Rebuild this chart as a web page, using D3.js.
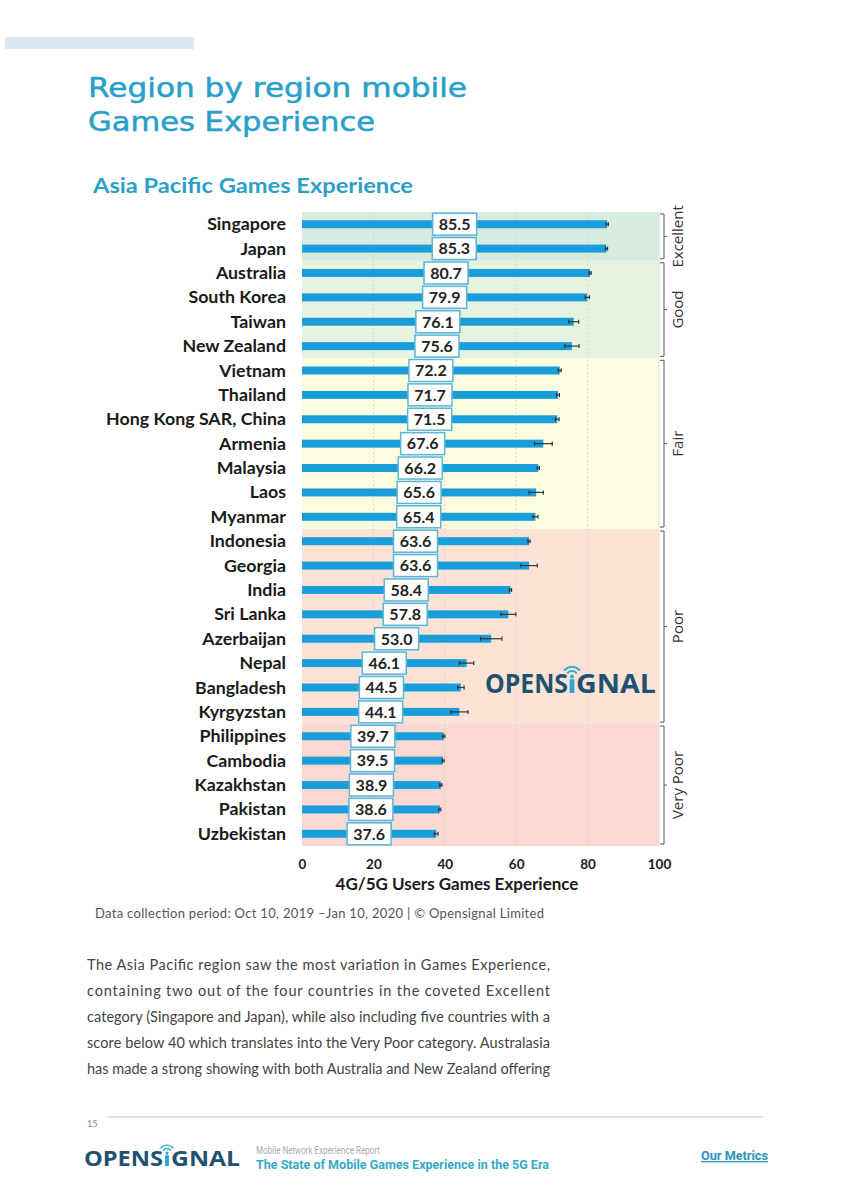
<!DOCTYPE html>
<html>
<head>
<meta charset="utf-8">
<script src="https://cdn.jsdelivr.net/npm/d3@7"></script>
<style>
  html, body { margin: 0; padding: 0; background: #fff; }
  svg { display: block; }
</style>
</head>
<body>
<svg id="page"></svg>
<script>
const W = 849, H = 1200;

// data
const countries = ['Singapore','Japan','Australia','South Korea','Taiwan','New Zealand','Vietnam','Thailand',
  'Hong Kong SAR, China','Armenia','Malaysia','Laos','Myanmar','Indonesia','Georgia','India','Sri Lanka',
  'Azerbaijan','Nepal','Bangladesh','Kyrgyzstan','Philippines','Cambodia','Kazakhstan','Pakistan','Uzbekistan'];
const values = [85.5,85.3,80.7,79.9,76.1,75.6,72.2,71.7,71.5,67.6,66.2,65.6,65.4,63.6,63.6,58.4,57.8,53.0,46.1,44.5,44.1,39.7,39.5,38.9,38.6,37.6];
const errors = [0.3,0.3,0.3,0.6,1.4,2.0,0.4,0.4,0.5,2.5,0.3,2.0,0.7,0.3,2.3,0.3,2.1,3.0,2.0,0.9,2.4,0.3,0.3,0.3,0.3,0.5];
const tierNames = ['Excellent','Good','Fair','Poor','Very Poor'];
const tierCounts = [2,4,7,8,5];
const tierColors = ['#d7ecdf','#e6f3df','#fefcdf','#fde3d6','#fcd8d3'];
const xTicks = [0,20,40,60,80,100];

const paragraph = [
  'The Asia Pacific region saw the most variation in Games Experience,',
  'containing two out of the four countries in the coveted Excellent',
  'category (Singapore and Japan), while also including five countries with a',
  'score below 40 which translates into the Very Poor category. Australasia',
  'has made a strong showing with both Australia and New Zealand offering'
];

const teal = '#2aa0c9';
const navy = '#1f5270';

const svg = d3.select('#page').attr('width', W).attr('height', H);

// top-left strip
svg.append('rect').attr('x',5).attr('y',37).attr('width',189).attr('height',12).attr('fill','#dde8f4');

// page titles
svg.append('text').text('Region by region mobile')
  .attr('x',88).attr('y',97).attr('fill',teal).attr('stroke',teal).attr('stroke-width',0.5)
  .attr('font-family','DejaVu Sans').attr('font-size','26px')
  .attr('textLength',379).attr('lengthAdjust','spacingAndGlyphs');
svg.append('text').text('Games Experience')
  .attr('x',88).attr('y',131).attr('fill',teal).attr('stroke',teal).attr('stroke-width',0.5)
  .attr('font-family','DejaVu Sans').attr('font-size','26px')
  .attr('textLength',287).attr('lengthAdjust','spacingAndGlyphs');

svg.append('text').text('Asia Pacific Games Experience')
  .attr('x',93).attr('y',193).attr('fill',teal)
  .attr('font-family','Lato').attr('font-weight','700').attr('font-size','20.5px')
  .attr('textLength',320).attr('lengthAdjust','spacingAndGlyphs');

// scales
const x = d3.scaleLinear().domain([0,100]).range([302,659]);
const y = d3.scaleBand().domain(countries).range([212,846]);
const barH = 8;

// tier backgrounds
let start = 0;
const tiers = tierNames.map((name,i) => {
  const t = {name, color: tierColors[i], first: countries[start], last: countries[start+tierCounts[i]-1]};
  start += tierCounts[i];
  return t;
});

svg.selectAll('.tier').data(tiers).enter()
  .append('rect').attr('class','tier')
  .attr('x',x(0)).attr('width',x(100)-x(0))
  .attr('y',d=>y(d.first))
  .attr('height',d=>y(d.last)+y.bandwidth()-y(d.first))
  .attr('fill',d=>d.color);

// dotted grid
svg.selectAll('.grid').data([20,40,60,80]).enter()
  .append('line').attr('class','grid')
  .attr('x1',d=>x(d)).attr('x2',d=>x(d))
  .attr('y1',212).attr('y2',846)
  .attr('stroke','#cfcfcf').attr('stroke-width',0.8).attr('stroke-dasharray','2,2');
svg.append('line').attr('x1',x(100)).attr('x2',x(100)).attr('y1',212).attr('y2',846)
  .attr('stroke','#d8d8d8').attr('stroke-width',0.8);

// bars
svg.selectAll('.bar').data(countries).enter()
  .append('rect').attr('class','bar')
  .attr('x',x(0))
  .attr('y',d=>y(d)+y.bandwidth()/2-barH/2)
  .attr('width',(d,i)=>x(values[i])-x(0))
  .attr('height',barH)
  .attr('fill','#1a9edb');

// error bars
const eb = svg.selectAll('.err').data(countries).enter().append('g').attr('class','err')
  .attr('transform',d=>`translate(0,${y(d)+y.bandwidth()/2})`);
eb.append('line')
  .attr('x1',(d,i)=>x(values[i]-errors[i])).attr('x2',(d,i)=>x(values[i]+errors[i]))
  .attr('y1',0).attr('y2',0).attr('stroke','#333').attr('stroke-width',1.2);
eb.append('line')
  .attr('x1',(d,i)=>x(values[i]-errors[i])).attr('x2',(d,i)=>x(values[i]-errors[i]))
  .attr('y1',-2).attr('y2',2).attr('stroke','#333').attr('stroke-width',1.2);
eb.append('line')
  .attr('x1',(d,i)=>x(values[i]+errors[i])).attr('x2',(d,i)=>x(values[i]+errors[i]))
  .attr('y1',-2).attr('y2',2).attr('stroke','#333').attr('stroke-width',1.2);

// value boxes at the middle of each bar
const vb = svg.selectAll('.vlab').data(countries).enter().append('g').attr('class','vlab')
  .attr('transform',(d,i)=>`translate(${x(values[i]/2)},${y(d)+y.bandwidth()/2})`);
vb.append('rect').attr('x',-22).attr('y',-11).attr('width',44).attr('height',22)
  .attr('fill','#fff').attr('stroke','#58b6da').attr('stroke-width',1.5);
vb.append('text').text((d,i)=>values[i].toFixed(1))
  .attr('text-anchor','middle').attr('y',5.8)
  .attr('font-family','Lato').attr('font-weight','700').attr('font-size','16px').attr('fill','#222');

// country names
svg.selectAll('.cname').data(countries).enter()
  .append('text').attr('class','cname').text(d=>d)
  .attr('x',286).attr('y',d=>y(d)+y.bandwidth()/2+6)
  .attr('text-anchor','end')
  .attr('font-family','Lato').attr('font-weight','700').attr('font-size','17.8px').attr('fill','#1a1a1a');

// tier brackets
const bx = 664;
const br = svg.selectAll('.brk').data(tiers).enter().append('g').attr('class','brk');
br.append('path').attr('fill','none').attr('stroke','#555').attr('stroke-width',1)
  .attr('d',d=>{
    const t = y(d.first)+2, b = y(d.last)+y.bandwidth()-2, m = (t+b)/2;
    return `M${bx-4},${t}H${bx}V${b}H${bx-4}M${bx},${m}H${bx+3}`;
  });
br.append('text').text(d=>d.name)
  .attr('transform',d=>{
    const m = (y(d.first)+y(d.last)+y.bandwidth())/2;
    return `translate(${bx+19},${m}) rotate(-90)`;
  })
  .attr('text-anchor','middle')
  .attr('font-family','Open Sans').attr('font-size','15px').attr('fill','#333');

// x axis
const xAxis = svg.append('g').attr('transform','translate(0,846)')
  .call(d3.axisBottom(x).tickValues(xTicks).tickSize(0).tickPadding(13));
xAxis.select('.domain').remove();
xAxis.selectAll('text').attr('font-family','Lato').attr('font-weight','700')
  .attr('font-size','13.5px').attr('fill','#1a1a1a');

svg.append('text').text('4G/5G Users Games Experience')
  .attr('x',457).attr('y',890).attr('text-anchor','middle')
  .attr('font-family','Lato').attr('font-weight','700').attr('font-size','17px').attr('fill','#1a1a1a');

// logo helper: OPENS + dotless i with signal arcs + GNAL
function drawLogo(g, x0, iX, x1, base, size, capH) {
  const f = 'Open Sans';
  g.append('text').text('OPENS').attr('x',iX-4).attr('y',base).attr('text-anchor','end')
    .attr('font-family',f).attr('font-weight','700').attr('font-size',size+'px').attr('fill',navy)
    .attr('textLength',iX-4-x0).attr('lengthAdjust','spacingAndGlyphs');
  g.append('rect').attr('x',iX-size*0.09).attr('y',base-capH*0.72).attr('width',size*0.18).attr('height',capH*0.72)
    .attr('fill','#2aa5cf');
  g.append('text').text('GNAL').attr('x',iX+4).attr('y',base)
    .attr('font-family',f).attr('font-weight','700').attr('font-size',size+'px').attr('fill',navy)
    .attr('textLength',x1-iX-4).attr('lengthAdjust','spacingAndGlyphs');
  const cy = base-capH*0.86;
  g.append('circle').attr('cx',iX).attr('cy',cy).attr('r',size*0.075).attr('fill','#2aa5cf');
  [0.22,0.38].forEach(k=>{
    const r = size*k;
    g.append('path').attr('fill','none').attr('stroke','#2aa5cf').attr('stroke-width',size*0.07)
      .attr('stroke-linecap','round')
      .attr('d',`M${iX-r*0.75},${cy-r*0.66}A${r},${r} 0 0 1 ${iX+r*0.75},${cy-r*0.66}`);
  });
}

// watermark in chart
drawLogo(svg.append('g'), 485, 572, 656, 693, 26, 19);

// caption
svg.append('text').text('Data collection period: Oct 10, 2019 \u2013Jan 10, 2020 | \u00a9 Opensignal Limited')
  .attr('x',95).attr('y',918).attr('font-family','Lato').attr('font-size','13px').attr('fill','#555')
  .attr('textLength',449).attr('lengthAdjust','spacing');

// body text, justified
svg.selectAll('.para').data(paragraph).enter()
  .append('text').attr('class','para').text(d=>d)
  .attr('x',87).attr('y',(d,i)=>970+i*26)
  .attr('font-family','Lato').attr('font-size','14.5px').attr('fill','#444')
  .attr('textLength',463).attr('lengthAdjust','spacing');

// footer
svg.append('text').text('15').attr('x',87).attr('y',1127)
  .attr('font-family','Lato').attr('font-size','9px').attr('fill','#888');
svg.append('line').attr('x1',107).attr('x2',763).attr('y1',1117).attr('y2',1117)
  .attr('stroke','#c4c4c4').attr('stroke-width',1);

drawLogo(svg.append('g'), 84, 167, 240, 1166, 21, 15);

svg.append('text').text('Mobile Network Experience Report')
  .attr('x',256).attr('y',1154).attr('font-family','Liberation Sans Narrow, Roboto').attr('font-size','11px')
  .attr('fill','#aaa').attr('textLength',124).attr('lengthAdjust','spacingAndGlyphs');
svg.append('text').text('The State of Mobile Games Experience in the 5G Era')
  .attr('x',256).attr('y',1169).attr('font-family','Liberation Sans Narrow, Roboto').attr('font-weight','700')
  .attr('font-size','13px').attr('fill','#36a9c9').attr('textLength',293).attr('lengthAdjust','spacingAndGlyphs');
svg.append('text').text('Our Metrics')
  .attr('x',701).attr('y',1160).attr('font-family','Liberation Sans Narrow, Roboto').attr('font-weight','700')
  .attr('font-size','13px').attr('fill','#2b93bd').attr('text-decoration','underline')
  .attr('textLength',67).attr('lengthAdjust','spacingAndGlyphs');
</script>
</body>
</html>
